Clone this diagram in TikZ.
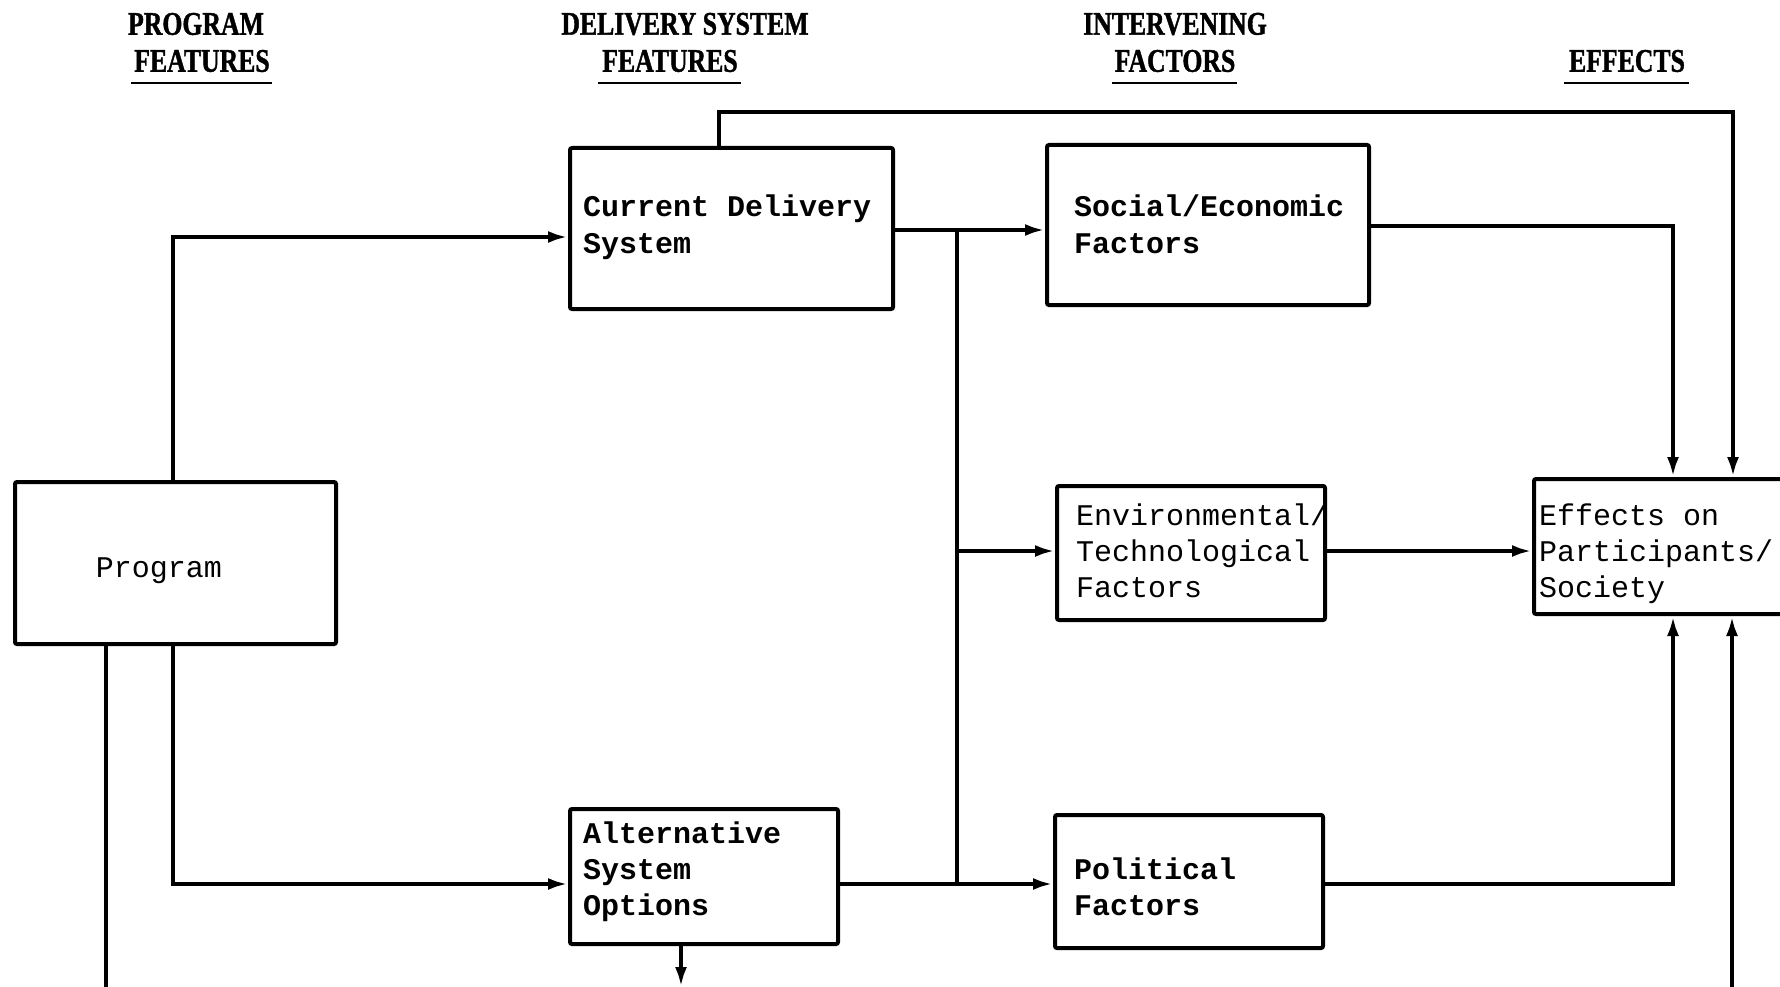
\documentclass[tikz,border=0pt]{standalone}
\usepackage{fontspec}
\setmonofont{Liberation Mono}
\newfontfamily\headfont[FakeStretch=0.78,FakeBold=1.2]{Liberation Serif}
\usetikzlibrary{arrows.meta}

\begin{document}
\begin{tikzpicture}[x=1pt,y=-1pt,
  box/.style={draw, line width=4pt, rounded corners=2pt, inner sep=0pt},
  boldtext/.style={inner sep=0pt, align=left, anchor=base west,
    font=\fontsize{30}{36}\selectfont\ttfamily\bfseries},
  lighttext/.style={inner sep=0pt, align=left, anchor=base west,
    font=\fontsize{30}{36}\selectfont\ttfamily},
  head/.style={inner sep=0pt, font=\fontsize{33}{36}\selectfont\headfont\bfseries},
  rule/.style={line width=2.5pt},
  wire/.style={line width=4pt},
  flow/.style={wire, -{Latex[length=20pt,width=12pt]}},
]
\clip (0,0) rectangle (1780,987);
\fill[white] (0,0) rectangle (1780,987);

% column headings
\node[head] (h1a) at (196,24) {PROGRAM};
\node[head] (h1b) at (202,61) {FEATURES};
\draw[rule] (131,83) -- (272,83);
\node[head] (h2a) at (685,24) {DELIVERY SYSTEM};
\node[head] (h2b) at (670,61) {FEATURES};
\draw[rule] (598,83) -- (741,83);
\node[head] (h3a) at (1175,24) {INTERVENING};
\node[head] (h3b) at (1175,61) {FACTORS};
\draw[rule] (1112,83) -- (1237,83);
\node[head] (h4b) at (1627,61) {EFFECTS};
\draw[rule] (1564,83) -- (1689,83);

% boxes
\node[box, minimum width=321pt, minimum height=162pt] (prog) at (175.5,563) {};
\node[box, minimum width=323pt, minimum height=161pt] (cur)  at (731.5,228.5) {};
\node[box, minimum width=268pt, minimum height=135pt] (alt)  at (704,876.5) {};
\node[box, minimum width=322pt, minimum height=160pt] (soc)  at (1208,225) {};
\node[box, minimum width=268pt, minimum height=134pt] (env)  at (1191,553) {};
\node[box, minimum width=268pt, minimum height=133pt] (pol)  at (1189,881.5) {};
\node[box, minimum width=266pt, minimum height=135pt] (eff)  at (1667,546.5) {};

% box texts (anchored at the baseline of the last line)
\node[lighttext, anchor=center] (progt) at (159,571) {Program};
\node[boldtext] (curt) at (583,253) {Current Delivery\\System};
\node[boldtext] (socT) at (1074,253) {Social/Economic\\Factors};
\node[lighttext] (envt) at (1076,597) {Environmental/\\Technological\\Factors};
\node[lighttext] (efft) at (1539,597) {Effects on\\Participants/\\Society};
\node[boldtext] (altt) at (583,915) {Alternative\\System\\Options};
\node[boldtext] (polt) at (1074,915) {Political\\Factors};

% free ends at the lower edge
\coordinate (progout) at (106,990);
\coordinate (altout) at (681,987);
\coordinate (effin) at (1732,990);

% routing points
\coordinate (jn) at (957,230);
\coordinate (jm) at (957,551);
\coordinate (js) at (957,884);

% program to the delivery systems
\draw[flow] (prog.north -| 173,0) |- (cur.west |- 0,237);
\draw[flow] (prog.south -| 173,0) |- (alt.west |- 0,884);
\draw[wire] (prog.south -| progout) -- (progout);

% delivery systems to intervening factors
\draw[wire] (cur.east |- jn) -- (jn) -- (js);
\draw[flow] (jn) -- (soc.west |- jn);
\draw[flow] (jm) -- (env.west |- jm);
\draw[flow] (alt.east |- js) -- (pol.west |- js);
\draw[flow] (alt.south -| altout) -- (altout);

% direct path from the current system to effects
\draw[flow] (cur.north -| 719,0) |- (1733,112) -- (eff.north -| 1733,0);

% intervening factors to effects
\draw[flow] (soc.east |- 0,226) -| (eff.north -| 1673,0);
\draw[flow] (env.east |- jm) -- (eff.west |- jm);
\draw[flow] (pol.east |- js) -| (eff.south -| 1673,0);
\draw[flow] (effin) -- (eff.south -| effin);
\end{tikzpicture}
\end{document}
